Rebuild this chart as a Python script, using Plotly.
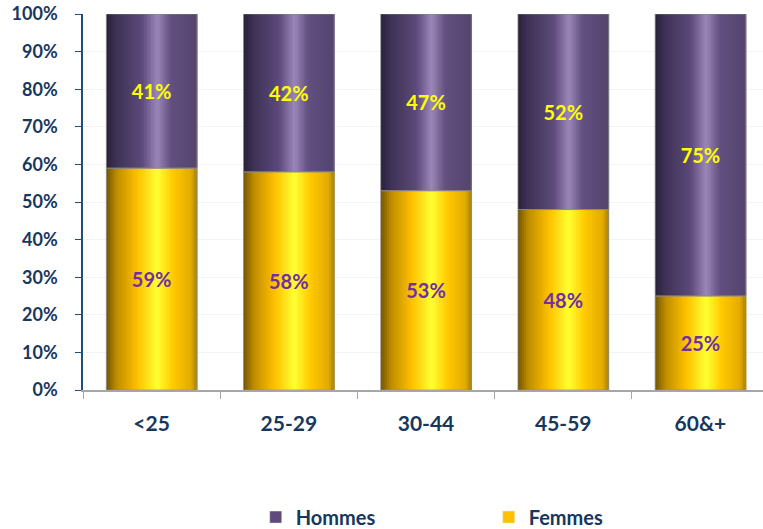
import plotly.graph_objects as go

# Age groups and share of each sex within each group
categories = ["<25", "25-29", "30-44", "45-59", "60&+"]
femmes = [0.59, 0.58, 0.53, 0.48, 0.25]
hommes = [0.41, 0.42, 0.47, 0.52, 0.75]

BAR_W = 0.66
N_STRIPS = 40
FONT = "Lato"
NAVY = "#17375E"

# Horizontal colour stops giving a cylinder-like shading across each bar
purple_stops = [(0.0, (40, 32, 56)), (0.12, (62, 50, 86)), (0.40, (92, 74, 122)),
                (0.57, (155, 135, 185)), (0.72, (98, 80, 128)), (1.0, (84, 68, 110))]
gold_stops = [(0.0, (110, 82, 0)), (0.12, (190, 140, 0)), (0.35, (255, 192, 0)),
              (0.57, (255, 255, 50)), (0.75, (255, 200, 0)), (0.95, (225, 170, 0)),
              (1.0, (170, 130, 0))]


def shade(stops, t):
    for (t0, c0), (t1, c1) in zip(stops, stops[1:]):
        if t0 <= t <= t1:
            f = (t - t0) / (t1 - t0)
            r, g, b = (round(a + (b_ - a) * f) for a, b_ in zip(c0, c1))
            return f"rgb({r},{g},{b})"
    r, g, b = stops[-1][1]
    return f"rgb({r},{g},{b})"


fig = go.Figure()
step = BAR_W / N_STRIPS


def add_strips(values, base, stops):
    for i in range(N_STRIPS):
        t = (i + 0.5) / N_STRIPS
        fig.add_trace(go.Bar(
            x=categories, y=values, base=base,
            width=step * 1.6, offset=-BAR_W / 2 + i * step - (step * 0.3 if i else 0),
            marker=dict(color=shade(stops, t), line=dict(width=0)),
            showlegend=False, hoverinfo="skip",
        ))


add_strips(femmes, None, gold_stops)
add_strips(hommes, femmes, purple_stops)

# Full-width outlined bars carrying the percentage labels
fig.add_trace(go.Bar(
    x=categories, y=femmes, width=BAR_W,
    marker=dict(color="rgba(0,0,0,0)", line=dict(color="rgba(140,140,140,0.7)", width=1)),
    text=[f"{v:.0%}" for v in femmes], textposition="inside", insidetextanchor="middle",
    textfont=dict(family=FONT, size=20, color="#7030A0", weight="bold"),
    textangle=0, showlegend=False, hoverinfo="skip",
))
fig.add_trace(go.Bar(
    x=categories, y=hommes, base=femmes, width=BAR_W,
    marker=dict(color="rgba(0,0,0,0)", line=dict(color="rgba(140,140,140,0.7)", width=1)),
    text=[f"{v:.0%}" for v in hommes], textposition="inside", insidetextanchor="middle",
    textfont=dict(family=FONT, size=20, color="#FFFF00", weight="bold"),
    textangle=0, showlegend=False, hoverinfo="skip",
))

# Legend entries
fig.add_trace(go.Bar(x=[None], y=[None], name="Hommes", marker_color="#604A7B", legendrank=1))
fig.add_trace(go.Bar(x=[None], y=[None], name="Femmes", marker_color="#FFC000", legendrank=2))

fig.update_layout(
    width=763, height=529,
    margin=dict(l=83, r=0, t=14, b=139, autoexpand=False),
    barmode="overlay",
    plot_bgcolor="white", paper_bgcolor="white",
    font=dict(family=FONT, color=NAVY),
    legend=dict(
        orientation="h", x=0.254, xanchor="left", y=-0.338, yanchor="middle",
        font=dict(family=FONT, size=20, color=NAVY, weight="bold"),
        entrywidth=188, entrywidthmode="pixels", itemclick=False,
    ),
)
fig.update_xaxes(
    type="category", range=[-0.5, 4.456],
    showline=True, linecolor="#A6A6A6", linewidth=1.5,
    ticks="outside", tickson="boundaries", ticklen=7, tickcolor="#A6A6A6",
    tickfont=dict(family=FONT, size=21, color=NAVY, weight="bold"),
    ticklabelstandoff=14, showgrid=False,
)
fig.update_yaxes(
    range=[0, 1.0], dtick=0.1, tickformat=".0%",
    showline=True, linecolor="#1F4E79", linewidth=1.5,
    ticks="outside", ticklen=6, tickcolor="#1F4E79",
    tickfont=dict(family=FONT, size=18, color=NAVY, weight="bold"),
    ticklabelstandoff=14, showgrid=True, gridcolor="#F3F3F3", zeroline=False,
)

fig.write_html("out.html")
